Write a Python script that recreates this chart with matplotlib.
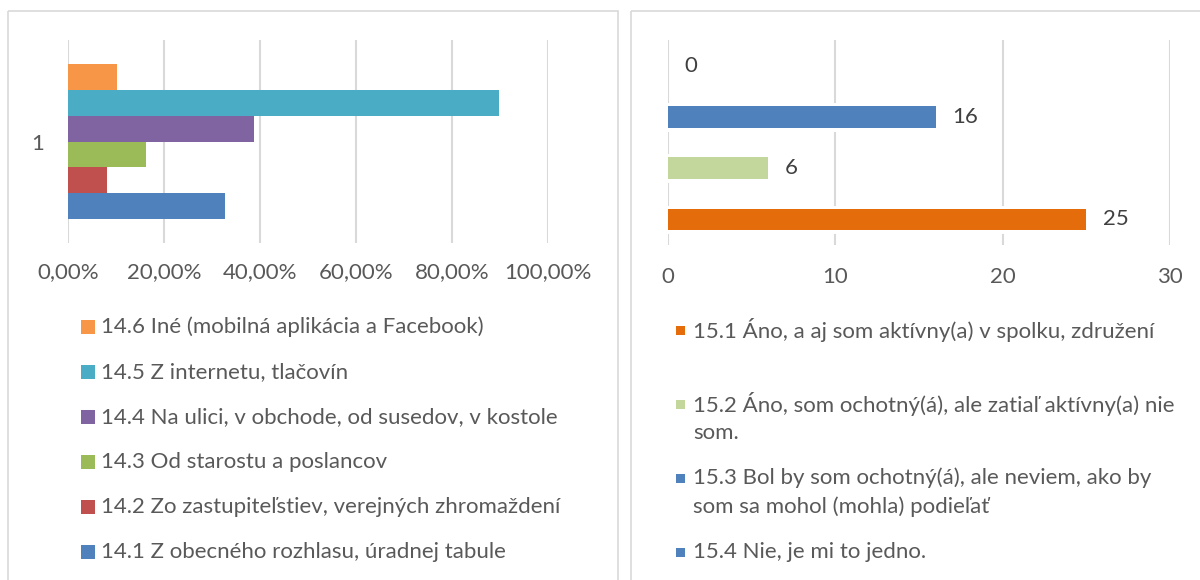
import matplotlib
matplotlib.use("Agg")
import matplotlib.pyplot as plt
from matplotlib.patches import Rectangle

plt.rcParams['font.family'] = ['Lato', 'DejaVu Sans']

# ---------------- data ----------------
left_labels = [
    "14.1 Z obecného rozhlasu, úradnej tabule",
    "14.2 Zo zastupiteľstiev, verejných zhromaždení",
    "14.3 Od starostu a poslancov",
    "14.4 Na ulici, v obchode, od susedov, v kostole",
    "14.5 Z internetu, tlačovín",
    "14.6 Iné (mobilná aplikácia a Facebook)",
]
left_values = [0.3265, 0.0816, 0.1633, 0.3878, 0.8980, 0.1020]
left_colors = ["#4F81BD", "#C0504D", "#9BBB59", "#8064A2", "#4BACC6", "#F79646"]
left_category = "1"
left_ticks = [0.0, 0.2, 0.4, 0.6, 0.8, 1.0]

right_labels = [
    "15.1 Áno, a aj som aktívny(a) v spolku, združení",
    "15.2 Áno, som ochotný(á), ale zatiaľ aktívny(a) nie\nsom.",
    "15.3 Bol by som ochotný(á), ale neviem, ako by\nsom sa mohol (mohla) podieľať",
    "15.4 Nie, je mi to jedno.",
]
right_values = [25, 6, 16, 0]
right_colors = ["#E46C0A", "#C3D69B", "#4F81BD", "#4F81BD"]
right_ticks = [0, 10, 20, 30]

# ---------------- styling ----------------
W, H = 1200, 580
FS = 16
TXT = "#595959"
GRID = "#D9D9D9"

fig = plt.figure(figsize=(W / 100, H / 100), dpi=100)
fig.patch.set_facecolor("white")


def px_axes(x0, y0, x1, y1):
    return fig.add_axes([x0 / W, 1 - y1 / H, (x1 - x0) / W, (y1 - y0) / H])


# overlay for panel borders and legends (pixel coordinates)
ov = fig.add_axes([0, 0, 1, 1], zorder=0)
ov.set_xlim(0, W)
ov.set_ylim(H, 0)
ov.axis("off")
ov.add_patch(Rectangle((8, 11), 610, 600, fill=False, edgecolor=GRID, linewidth=1.2))
ov.add_patch(Rectangle((631, 11), 600, 600, fill=False, edgecolor=GRID, linewidth=1.2))

# ---------------- left chart ----------------
axl = px_axes(68, 40, 548, 243)
axl.set_zorder(1)
axl.patch.set_alpha(0)
n = len(left_values)
h = 0.7635 / n
for i, (v, c) in enumerate(zip(left_values, left_colors)):
    y = -0.7635 / 2 + h * (i + 0.5)
    axl.barh(y, v, height=h, color=c, linewidth=0, zorder=3)
axl.set_xlim(0, 1.0)
axl.set_ylim(-0.5, 0.5)
axl.set_xticks(left_ticks)
axl.set_xticklabels([f"{t * 100:.2f}%".replace(".", ",") for t in left_ticks])
axl.set_yticks([0])
axl.set_yticklabels([left_category])
axl.grid(axis="x", color=GRID, linewidth=1.5, zorder=0)
axl.set_axisbelow(True)
for s in axl.spines.values():
    s.set_visible(False)
axl.tick_params(axis="x", length=0, pad=14, labelsize=FS, labelcolor=TXT)
axl.tick_params(axis="y", length=0, pad=17, labelsize=FS, labelcolor=TXT)

# left legend (top entry is last series)
ly = [327, 372, 417, 462, 507, 552]
for k, idx in enumerate(range(n - 1, -1, -1)):
    y = ly[k]
    ov.add_patch(Rectangle((81, y - 7), 14, 14, facecolor=left_colors[idx], edgecolor="none"))
    ov.text(101, y, left_labels[idx], fontsize=FS, color=TXT, va="center", ha="left")

# ---------------- right chart ----------------
axr = px_axes(668, 40, 1170, 245)
axr.set_zorder(1)
axr.patch.set_alpha(0)
ypos = list(range(len(right_values)))
for y, v, c in zip(ypos, right_values, right_colors):
    if v > 0:
        axr.barh(y, v, height=0.42, color="white", edgecolor="white", linewidth=5, zorder=2)
    axr.barh(y, v, height=0.42, color=c, linewidth=0, zorder=3)
    axr.annotate(str(v), xy=(v, y), xytext=(12, 0), textcoords="offset points",
                 va="center", ha="left", fontsize=FS, color="#404040", zorder=4)
axr.set_xlim(0, 30)
axr.set_ylim(-0.5, len(right_values) - 0.5)
axr.set_xticks(right_ticks)
axr.set_xticklabels([str(t) for t in right_ticks])
axr.set_yticks([])
axr.grid(axis="x", color=GRID, linewidth=1.5, zorder=0)
axr.set_axisbelow(True)
for s in axr.spines.values():
    s.set_visible(False)
axr.tick_params(axis="x", length=0, pad=16, labelsize=FS, labelcolor=TXT)

# right legend
ry = [330, 404, 478, 552]
for y, lab, c in zip(ry, right_labels, right_colors):
    ov.add_patch(Rectangle((676, y - 4.5), 9, 9, facecolor=c, edgecolor="none"))
    for j, line in enumerate(lab.split("\n")):
        ov.text(693, y + 29 * j, line, fontsize=FS, color=TXT, va="center", ha="left")

fig.savefig("out.png", dpi=100, facecolor="white")
